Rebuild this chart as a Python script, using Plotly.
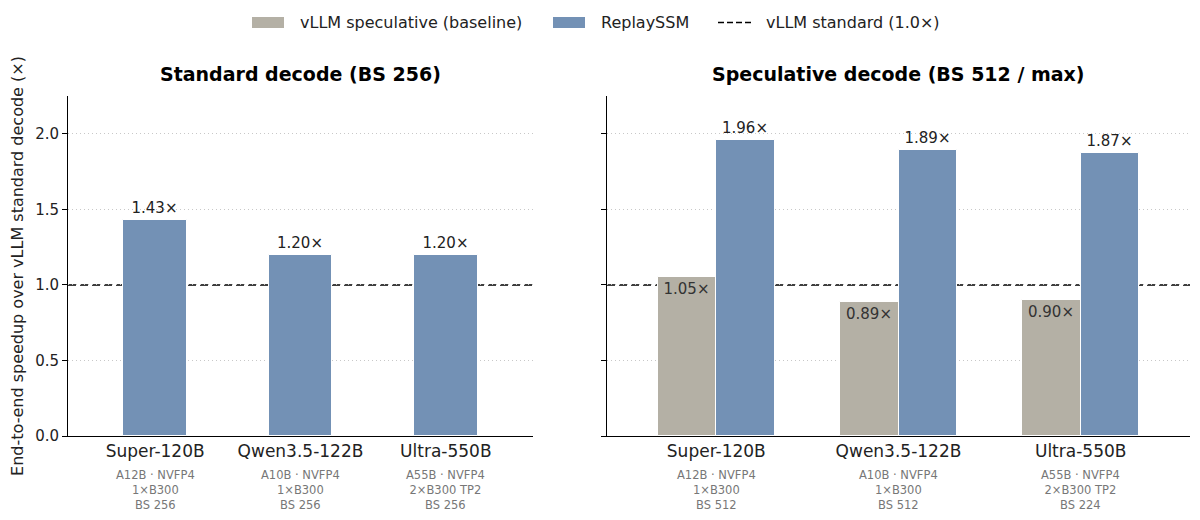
import plotly.graph_objects as go
from plotly.subplots import make_subplots

models = ["Super-120B", "Qwen3.5-122B", "Ultra-550B"]
std_details = ["A12B · NVFP4<br>1×B300<br>BS 256",
               "A10B · NVFP4<br>1×B300<br>BS 256",
               "A55B · NVFP4<br>2×B300 TP2<br>BS 256"]
spec_details = ["A12B · NVFP4<br>1×B300<br>BS 512",
                "A10B · NVFP4<br>1×B300<br>BS 512",
                "A55B · NVFP4<br>2×B300 TP2<br>BS 224"]
std_replay = [1.43, 1.20, 1.20]
spec_baseline = [1.05, 0.89, 0.90]
spec_replay = [1.96, 1.89, 1.87]
baseline_level = 1.0

GRAY = "#b4b0a5"
BLUE = "#7391b5"
FONT = "DejaVu Sans"
# the page puts the figure 8px in from the window corner
OFF = 8
W, H = 1200, 520
PL, PR, PT, PB = 68, 1190, 96, 436   # plot box in window pixels
ML, MR, MT, MB = PL - OFF, W - (PR - OFF), PT - OFF, H - (PB - OFF)
DASH = "8px,4px"


def fx(px):
    return (px - PL) / (PR - PL)


def fy(py):
    return (PB - py) / (PB - PT)


fig = make_subplots(rows=1, cols=2, shared_yaxes=True)

# standard decode: ReplaySSM only
fig.add_trace(go.Bar(
    x=list(range(len(models))), y=std_replay, width=0.44,
    marker=dict(color=BLUE, line=dict(color="white", width=1)),
    text=[f"{v:.2f}×" for v in std_replay], textposition="outside",
    textfont=dict(size=15, color="#222"), cliponaxis=False,
    showlegend=False,
), row=1, col=1)

# speculative decode: baseline + ReplaySSM
fig.add_trace(go.Bar(
    x=list(range(len(models))), y=spec_baseline, width=0.32, offset=-0.32,
    marker=dict(color=GRAY, line=dict(color="white", width=1)),
    text=[f"{v:.2f}×" for v in spec_baseline], textposition="inside",
    insidetextanchor="end", textfont=dict(size=15, color="#333"),
    showlegend=False,
), row=1, col=2)
fig.add_trace(go.Bar(
    x=list(range(len(models))), y=spec_replay, width=0.32, offset=0.0,
    marker=dict(color=BLUE, line=dict(color="white", width=1)),
    text=[f"{v:.2f}×" for v in spec_replay], textposition="outside",
    textfont=dict(size=15, color="#222"), cliponaxis=False,
    showlegend=False,
), row=1, col=2)

for c in (1, 2):
    fig.add_hline(y=baseline_level, line=dict(color="black", dash=DASH, width=1.5),
                  layer="below", row=1, col=c)

fig.update_xaxes(
    range=[-0.6, 2.6], tickvals=list(range(len(models))), ticktext=models,
    tickfont=dict(size=17, color="#222"), showline=True, linecolor="black",
    linewidth=1, ticks="", showgrid=False, zeroline=False, automargin=False,
)
fig.update_layout(xaxis=dict(domain=[0, fx(533)]), xaxis2=dict(domain=[fx(607), 1]))
fig.update_yaxes(
    range=[0, 2.25], dtick=0.5, tickformat=".1f", showline=True,
    linecolor="black", linewidth=1, ticks="outside", ticklen=5,
    tickcolor="black", tickfont=dict(size=15, color="#222"),
    showgrid=True, gridcolor="#c8c8c8", griddash="1px,3px", gridwidth=1,
    zeroline=False, automargin=False,
)
fig.update_yaxes(
    title=dict(text="End-to-end speedup over vLLM standard decode (×)",
               font=dict(size=16, color="#222"), standoff=8),
    row=1, col=1,
)
fig.update_yaxes(showticklabels=False, row=1, col=2)

# detail lines under each category
for xref, details in (("x", std_details), ("x2", spec_details)):
    for i, d in enumerate(details):
        fig.add_annotation(
            x=i, xref=xref, y=0, yref="paper", yshift=-30, yanchor="top",
            text=d, showarrow=False, font=dict(size=11.5, color="#777"),
        )

# panel titles
for xref, title in (("x domain", "<b>Standard decode (BS 256)</b>"),
                    ("x2 domain", "<b>Speculative decode (BS 512 / max)</b>")):
    fig.add_annotation(
        x=0.5, xref=xref, y=1, yref="paper", yshift=9, yanchor="bottom",
        text=title, showarrow=False, font=dict(size=19, color="black"),
    )

# legend, drawn by hand to get wide patches
legend_items = [
    ("rect", GRAY, 252, "vLLM speculative (baseline)"),
    ("rect", BLUE, 553, "ReplaySSM"),
    ("line", "black", 718, "vLLM standard (1.0×)"),
]
for kind, color, x0, label in legend_items:
    if kind == "rect":
        fig.add_shape(type="rect", xref="paper", yref="paper",
                      x0=fx(x0), x1=fx(x0 + 32), y0=fy(28), y1=fy(17),
                      fillcolor=color, line=dict(width=0))
    else:
        fig.add_shape(type="line", xref="paper", yref="paper",
                      x0=fx(x0), x1=fx(x0 + 34), y0=fy(22.5), y1=fy(22.5),
                      line=dict(color=color, width=1.5, dash="6px,3px"))
    fig.add_annotation(x=fx(x0 + 46), y=fy(22.5), xref="paper", yref="paper",
                       xanchor="left", yanchor="middle", text=label,
                       showarrow=False, font=dict(size=16, color="#222"))

fig.update_layout(
    width=W, height=H,
    margin=dict(l=ML, r=MR, t=MT, b=MB),
    plot_bgcolor="white", paper_bgcolor="white",
    font=dict(family=FONT, color="#222"),
    barmode="overlay", bargap=0, showlegend=False,
)

fig.write_html("out.html")
